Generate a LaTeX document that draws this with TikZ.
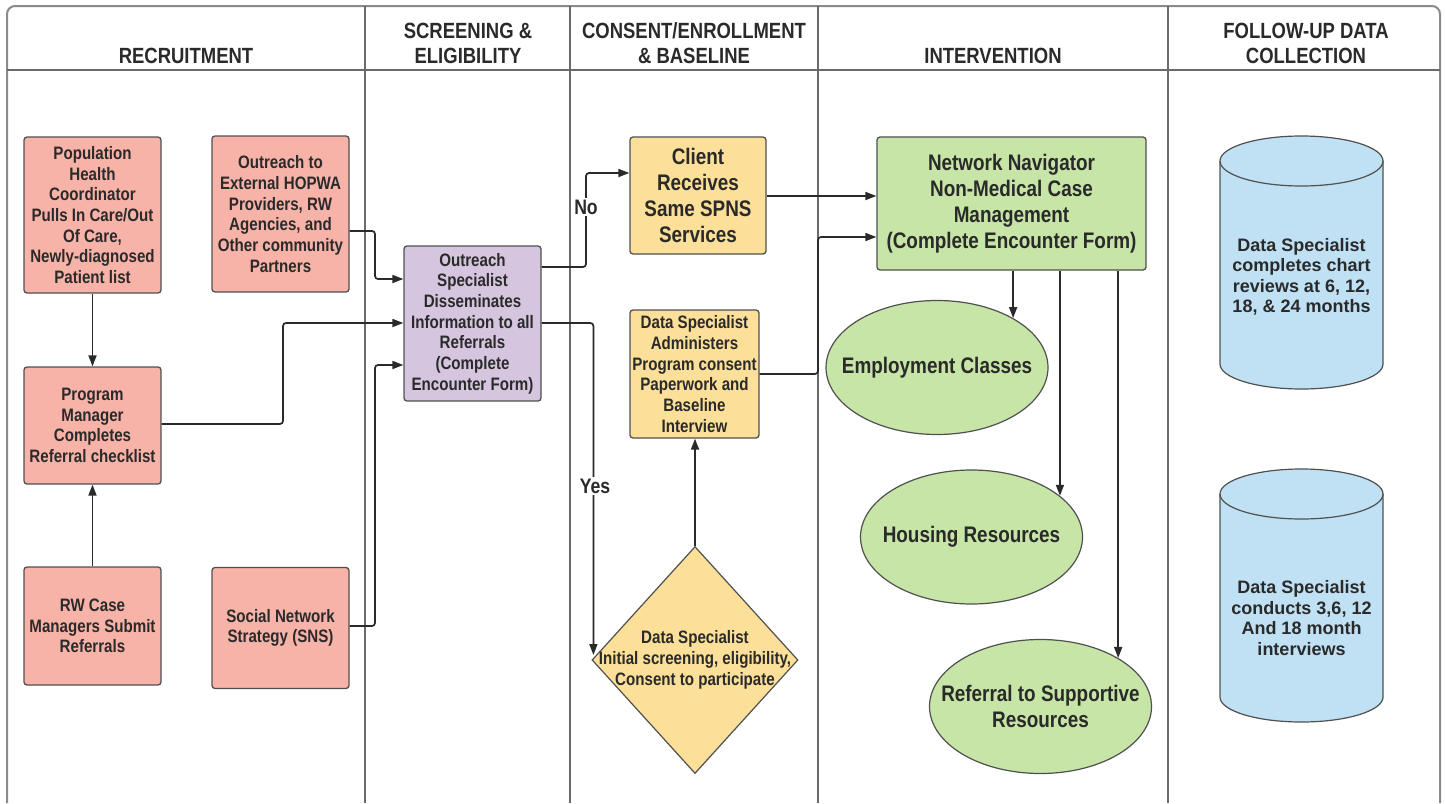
\documentclass[tikz,border=0pt]{standalone}
\usepackage{fontspec}
\setmainfont{Liberation Sans}[FakeStretch=0.84]
\newfontfamily\cylfont{Liberation Sans}
\usetikzlibrary{shapes.geometric,arrows.meta,calc}
\definecolor{pinkf}{HTML}{F8B3A8}
\definecolor{purpf}{HTML}{D5C5DE}
\definecolor{yelf}{HTML}{FCDF98}
\definecolor{grnf}{HTML}{C6E5A6}
\definecolor{bluf}{HTML}{C0E1F4}
\definecolor{edgec}{HTML}{505050}
\definecolor{txt}{HTML}{2A2A2A}
\definecolor{framec}{HTML}{8A8A8A}
\definecolor{lanec}{HTML}{6A6A6A}
\tikzset{
  boxtxt/.style={font=\bfseries\fontsize{18}{20.7}\selectfont, text=txt, align=center},
  bigtxt/.style={font=\bfseries\fontsize{22.5}{26}\selectfont, text=txt, align=center},
  stepbox/.style={boxtxt, draw=edgec, line width=1.3pt, rounded corners=3pt, inner sep=0pt},
  pinkbox/.style={stepbox, fill=pinkf, minimum width=137pt},
  ovalbox/.style={ellipse, draw=edgec, line width=1.2pt, fill=grnf, inner sep=0pt,
                  minimum width=222pt, minimum height=134pt},
  arr/.style={draw=txt, line width=1.7pt, rounded corners=3pt, -{Triangle[length=11pt,width=8pt]}},
  lbl/.style={fill=white, inner sep=1.5pt, font=\bfseries\fontsize{21}{24}\selectfont, text=txt},
  hdr/.style={font=\bfseries\fontsize{22}{25}\selectfont, text=txt, align=center},
  cylpath/.style={draw=edgec, line width=1.2pt, fill=bluf},
  cyltxt/.style={font=\cylfont\bfseries\fontsize{18}{20.5}\selectfont, text=txt, align=center}
}
\begin{document}
\begin{tikzpicture}[x=1pt,y=-1pt]
\useasboundingbox (0,0) rectangle (1445,803);
\fill[white] (0,0) rectangle (1445,803);

% frame and lanes
\draw[framec, line width=2pt, rounded corners=8pt] (7,803) -- (7,6) -- (1440,6) -- (1440,803);
\draw[lanec, line width=1.2pt] (7,70) -- (1440,70);
\foreach \xx in {365,570,818,1168} \draw[lanec, line width=1.2pt] (\xx,6) -- (\xx,803);

% headers
\node[hdr] (h1) at (186,56) {RECRUITMENT};
\node[hdr] (h2) at (468,43.5) {SCREENING \&\\ELIGIBILITY};
\node[hdr] (h3) at (694,43.5) {CONSENT/ENROLLMENT\\\& BASELINE};
\node[hdr] (h4) at (993,56) {INTERVENTION};
\node[hdr] (h5) at (1306,43.5) {FOLLOW-UP DATA\\COLLECTION};

% recruitment
\node[pinkbox, minimum height=156pt] (pop) at (92.5,215) {Population\\Health\\Coordinator\\Pulls In Care/Out\\Of Care,\\Newly-diagnosed\\Patient list};
\node[pinkbox, minimum height=156pt] (ext) at (280.5,214) {Outreach to\\External HOPWA\\Providers, RW\\Agencies, and\\Other community\\Partners};
\node[pinkbox, minimum height=117pt] (prog) at (92.5,425.5) {Program\\Manager\\Completes\\Referral checklist};
\node[pinkbox, minimum height=118pt] (rw) at (92.5,626) {RW Case\\Managers Submit\\Referrals};
\node[pinkbox, minimum height=121pt] (sns) at (280.5,628) {Social Network\\Strategy (SNS)};

% screening
\node[stepbox, fill=purpf, minimum width=137pt, minimum height=155pt] (osp) at (472.5,323.5) {Outreach\\Specialist\\Disseminates\\Information to all\\Referrals\\(Complete\\Encounter Form)};

% consent
\node[stepbox, bigtxt, fill=yelf, minimum width=136pt, minimum height=117pt] (client) at (698,195.5) {Client\\Receives\\Same SPNS\\Services};
\node[stepbox, fill=yelf, minimum width=129pt, minimum height=128pt] (admin) at (694.5,374) {Data Specialist\\Administers\\Program consent\\Paperwork and\\Baseline\\Interview};
\node[diamond, draw=edgec, line width=1.2pt, fill=yelf, inner sep=0pt, minimum width=206pt, minimum height=227pt] (dia) at (695,660) {};
\node[boxtxt] (diatxt) at (dia.center) {Data Specialist\\Initial screening, eligibility,\\Consent to participate};

% intervention
\node[stepbox, bigtxt, fill=grnf, minimum width=269pt, minimum height=133pt] (nn) at (1011.5,203.5) {Network Navigator\\Non-Medical Case\\Management\\(Complete Encounter Form)};
\node[ovalbox] (emp) at (937,367.5) {};
\node[bigtxt] (emptxt) at (emp.center) {Employment Classes};
\node[ovalbox] (hous) at (971.5,537) {};
\node[bigtxt] (houstxt) at (hous.center) {Housing Resources};
\node[ovalbox] (ref) at (1040.5,706.5) {};
\node[bigtxt] (reftxt) at (ref.center) {Referral to Supportive\\Resources};

% follow-up cylinders
\foreach \cy in {136,469} {
  \path[cylpath] (1220,\cy+25) -- (1220,\cy+228)
     arc[start angle=180,end angle=0,x radius=81.5,y radius=25]
     -- (1383,\cy+25)
     arc[start angle=0,end angle=-180,x radius=81.5,y radius=25] -- cycle;
  \draw[edgec, line width=1.2pt] (1220,\cy+25) arc[start angle=180,end angle=0,x radius=81.5,y radius=25];
}
\node[cyltxt] (cyl1) at (1301.5,277) {Data Specialist\\completes chart\\reviews at 6, 12,\\18, \& 24 months};
\node[cyltxt] (cyl2) at (1301.5,618) {Data Specialist\\conducts 3,6, 12\\And 18 month\\interviews};

% connectors
\draw[arr] (pop) -- (prog);
\draw[arr] (rw) -- (prog);
\draw[arr] (ext.east |- 0,231) -| (375,279) -- (osp.west |- 0,279);
\draw[arr] (prog.east |- 0,424) -| (283,323) -- (osp.west |- 0,323);
\draw[arr] (sns.east |- 0,626) -| (375,365) -- (osp.west |- 0,365);
\draw[arr] (osp.east |- 0,267) -| (586,173) -- (client.west |- 0,173);
\draw[arr] (osp.east |- 0,323) -| ([xshift=2pt,yshift=5pt]dia.west);
\node[lbl] (no) at (586,207) {No};
\node[lbl] (yes) at (595,486) {Yes};
\draw[arr] (dia.north) -- (dia.north |- admin.south);
\draw[arr] (client.east |- 0,196) -- (nn.west |- 0,196);
\draw[arr] (admin.east |- 0,374) -| (818,237) -- (nn.west |- 0,237);
\draw[arr] (emp.33.6 |- nn.south) -- (emp.33.6);
\draw[arr] (hous.25.4 |- nn.south) -- (hous.25.4);
\draw[arr] (ref.32.9 |- nn.south) -- (ref.32.9);
\end{tikzpicture}
\end{document}
